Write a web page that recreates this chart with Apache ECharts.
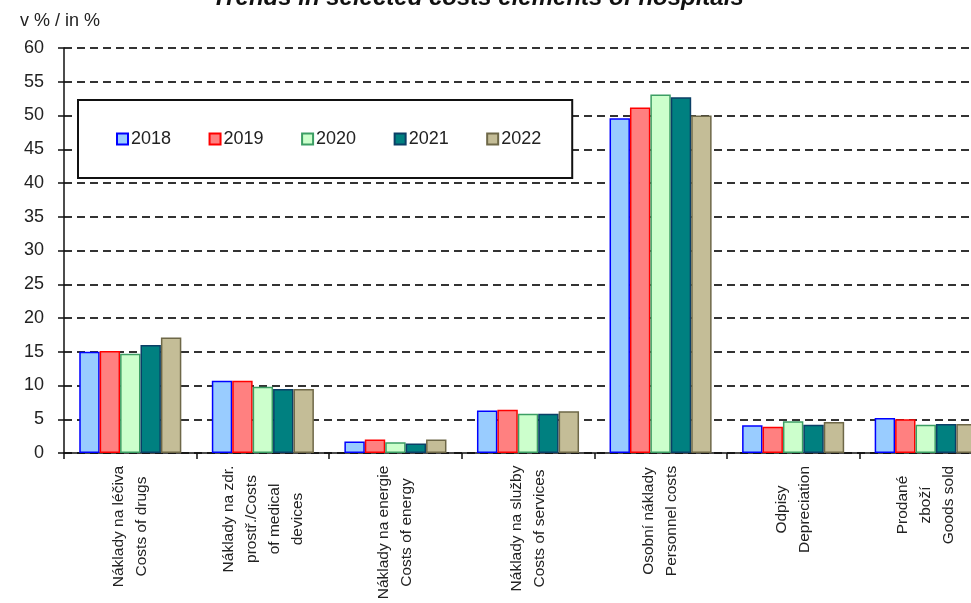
<!DOCTYPE html>
<html>
<head>
<meta charset="utf-8">
<script src="https://cdn.jsdelivr.net/npm/echarts@6/dist/echarts.min.js"></script>
<style>
  html, body { margin: 0; padding: 0; background: #fff; }
  #chart { width: 971px; height: 603px; }
</style>
</head>
<body>
<div id="chart"></div>
<script>
// Cost categories (Czech / English), one line per array entry
const categories = [
  ['Náklady na léčiva', 'Costs of drugs'],
  ['Náklady na zdr.', 'prostř./Costs', 'of medical', 'devices'],
  ['Náklady na energie', 'Costs of energy'],
  ['Náklady na služby', 'Costs of services'],
  ['Osobní náklady', 'Personnel costs'],
  ['Odpisy', 'Depreciation'],
  ['Prodané', 'zboží', 'Goods sold']
];

const years = ['2018', '2019', '2020', '2021', '2022'];

// Share of total costs, in %
const v2018 = [15.0, 10.7, 1.7, 6.3, 49.6, 4.1, 5.2];
const v2019 = [15.1, 10.7, 2.0, 6.4, 51.2, 3.9, 5.0];
const v2020 = [14.7, 9.8, 1.6, 5.8, 53.1, 4.7, 4.2];
const v2021 = [16.0, 9.5, 1.4, 5.8, 52.7, 4.2, 4.3];
const v2022 = [17.1, 9.5, 2.0, 6.2, 50.0, 4.6, 4.3];
const seriesValues = [v2018, v2019, v2020, v2021, v2022];

const yTicks = [0, 5, 10, 15, 20, 25, 30, 35, 40, 45, 50, 55, 60];

const fills = ['#99CCFF', '#FF8080', '#CCFFCC', '#008080', '#C4BD97'];
const borders = ['#0000FF', '#FF0000', '#3C9E64', '#0B3F66', '#6E6848'];

const FONT = '"Liberation Sans", Arial, sans-serif';
const LABEL_SIZE = 15.5;

// Measure each label's widest line so the lines can be centred on each other
const ctx = document.createElement('canvas').getContext('2d');
ctx.font = LABEL_SIZE + 'px ' + FONT;
const rich = {};
categories.forEach((lines, i) => {
  const w = Math.max(...lines.map(l => ctx.measureText(l).width));
  rich['c' + i] = { width: Math.ceil(w) + 1, align: 'center', fontSize: LABEL_SIZE, lineHeight: 23, fontFamily: FONT, color: '#222' };
});

const chart = echarts.init(document.getElementById('chart'));

chart.setOption({
  animation: false,
  backgroundColor: '#fff',
  textStyle: { fontFamily: FONT },
  title: {
    text: 'Trends in selected costs elements of hospitals',
    left: 212,
    top: -14,
    padding: 0,
    textStyle: { fontSize: 24, fontWeight: 'bold', fontStyle: 'italic', color: '#111', fontFamily: FONT }
  },
  legend: {
    data: years,
    icon: 'rect',
    left: 78,
    top: 100,
    orient: 'horizontal',
    padding: [30, 31, 30, 38],
    itemWidth: 11,
    itemHeight: 11,
    itemGap: 37.5,
    backgroundColor: '#fff',
    borderColor: '#111',
    borderWidth: 2,
    borderRadius: 0,
    textStyle: { fontSize: 18, color: '#222', fontFamily: FONT, padding: [0, 0, 0, -2] }
  },
  grid: { left: 64, top: 48, width: 928, height: 405, containLabel: false, outerBoundsMode: 'none' },
  xAxis: {
    type: 'category',
    data: categories.map(c => c.join('\n')),
    axisLine: { lineStyle: { color: '#111', width: 1.5 } },
    axisTick: { show: true, length: 6, lineStyle: { color: '#111', width: 1.5 } },
    axisLabel: {
      rotate: 90,
      margin: 12,
      interval: 0,
      formatter: (value, idx) => categories[idx].map(l => '{c' + idx + '|' + l + '}').join('\n'),
      rich: rich
    }
  },
  yAxis: {
    type: 'value',
    min: yTicks[0],
    max: yTicks[yTicks.length - 1],
    interval: yTicks[1] - yTicks[0],
    name: 'v % / in %',
    nameLocation: 'end',
    nameGap: 18,
    nameTextStyle: { fontSize: 18, color: '#222', align: 'center', fontFamily: FONT, padding: [0, 8, 0, 0] },
    axisLine: { show: true, lineStyle: { color: '#111', width: 1.5 } },
    axisTick: { show: true, length: 6, lineStyle: { color: '#111', width: 1.5 } },
    axisLabel: { fontSize: 18, color: '#222', margin: 20, fontFamily: FONT },
    splitLine: { show: true, lineStyle: { color: '#333', width: 2, type: [8, 5] } }
  },
  series: years.map((y, i) => ({
    name: y,
    type: 'bar',
    data: seriesValues[i],
    barGap: '0%',
    barCategoryGap: '23%',
    itemStyle: { color: fills[i], borderColor: borders[i], borderWidth: 1.5 }
  }))
});
</script>
</body>
</html>
